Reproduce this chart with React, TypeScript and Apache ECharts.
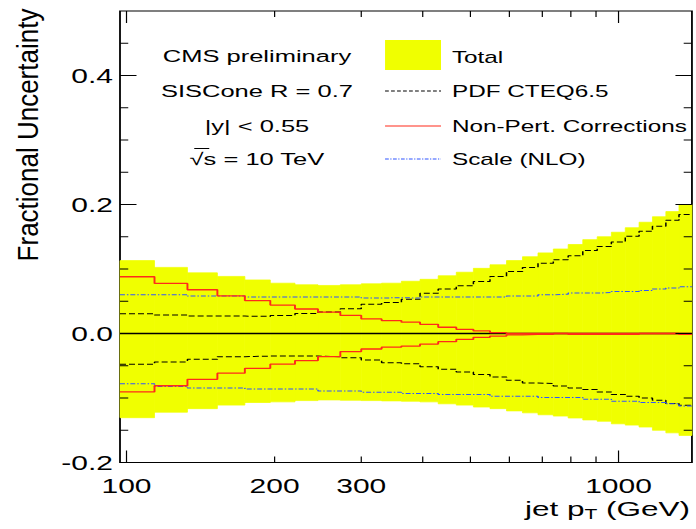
import React, { useEffect, useRef } from "react";
import * as echarts from "echarts";

// Jet pT bin edges (GeV), 30 bins
const binEdges = [
  97, 114, 133, 153, 174, 196, 220, 245, 272, 300, 330, 362, 395, 430, 468, 507,
  548, 592, 638, 686, 737, 790, 846, 905, 967, 1032, 1101, 1172, 1248, 1327, 1410,
];

// Total uncertainty band (upper / lower edge per bin)
const totalUp = [
  0.113, 0.1025, 0.094, 0.0885, 0.083, 0.078, 0.0755, 0.0745, 0.0755, 0.077,
  0.078, 0.081, 0.084, 0.0895, 0.095, 0.101, 0.1065, 0.113, 0.119, 0.125,
  0.131, 0.138, 0.1455, 0.15, 0.157, 0.164, 0.1725, 0.181, 0.189, 0.2,
];
const totalDown = [
  -0.1305, -0.122, -0.1165, -0.111, -0.107, -0.106, -0.104, -0.103, -0.1035, -0.104,
  -0.1045, -0.105, -0.106, -0.109, -0.111, -0.114, -0.1165, -0.12, -0.123, -0.126,
  -0.128, -0.131, -0.134, -0.136, -0.14, -0.142, -0.145, -0.15, -0.154, -0.158,
];

// PDF (CTEQ6.5) uncertainty
const pdfUp = [
  0.0305, 0.0285, 0.027, 0.027, 0.0265, 0.028, 0.031, 0.0335, 0.0385, 0.0455,
  0.048, 0.053, 0.0625, 0.0688, 0.074, 0.0807, 0.0885, 0.0963, 0.1025, 0.109,
  0.1145, 0.1207, 0.1285, 0.135, 0.142, 0.1508, 0.1586, 0.1664, 0.1757, 0.1846,
];
const pdfDown = [
  -0.0475, -0.044, -0.04, -0.036, -0.035, -0.035, -0.035, -0.036, -0.0375, -0.041,
  -0.0455, -0.047, -0.0517, -0.0553, -0.0595, -0.0636, -0.0673, -0.0724, -0.0766, -0.0776,
  -0.0813, -0.0844, -0.087, -0.0906, -0.0947, -0.0973, -0.1, -0.1036, -0.1087, -0.1114,
];

// Non-perturbative corrections uncertainty
const npUp = [
  0.088, 0.0776, 0.0678, 0.0584, 0.051, 0.044, 0.038, 0.033, 0.028, 0.0226,
  0.02, 0.0175, 0.0143, 0.0097, 0.0065, 0.004, 0.0013, 0, 0, 0,
  0, 0, 0, 0, 0, 0, 0, 0, 0, 0,
];
const npDown = [
  -0.0906, -0.081, -0.071, -0.0615, -0.054, -0.0475, -0.042, -0.036, -0.028, -0.024,
  -0.021, -0.0195, -0.0164, -0.0127, -0.009, -0.006, -0.004, -0.002, -0.0015, -0.0015,
  0, -0.0015, -0.0015, -0.0015, -0.0015, -0.0015, 0, 0, 0, -0.0015,
];

// Scale (NLO) uncertainty
const scaleUp = [
  0.06, 0.06, 0.058, 0.058, 0.0565, 0.0565, 0.0565, 0.0565, 0.0565, 0.055,
  0.0555, 0.055, 0.0565, 0.0565, 0.0565, 0.0565, 0.0565, 0.058, 0.058, 0.06,
  0.061, 0.0626, 0.0626, 0.0636, 0.065, 0.065, 0.0667, 0.0688, 0.0704, 0.0724,
];
const scaleDown = [
  -0.078, -0.082, -0.0845, -0.0845, -0.086, -0.086, -0.086, -0.089, -0.089, -0.091,
  -0.091, -0.093, -0.093, -0.0947, -0.0947, -0.0947, -0.0973, -0.0973, -0.0973, -0.0994,
  -0.0994, -0.0994, -0.102, -0.102, -0.105, -0.105, -0.107, -0.107, -0.109, -0.1125,
];

// Axis ticks and labels
const xTickValues = [100, 200, 300, 400, 500, 600, 700, 800, 900, 1000];
const xMajorTicks = [100, 1000];
const xLabelValues = [100, 200, 300, 1000];
const yTickValues = [
  -0.2, -0.15, -0.1, -0.05, 0, 0.05, 0.1, 0.15, 0.2, 0.25, 0.3, 0.35, 0.4, 0.45,
];
const yMajorTicks = [-0.2, 0, 0.2, 0.4];

const legendLabels = ["Total", "PDF CTEQ6.5", "Non-Pert. Corrections", "Scale (NLO)"];
const infoLines = ["CMS preliminary", "SISCone R = 0.7", "|y| < 0.55", "√s = 10 TeV"];

const X_MIN = 97;
const X_MAX = 1410;
const Y_MIN = -0.2;
const Y_MAX = 0.5;

const YELLOW = "#f0ff00";
const RED = "#ff2a1a";
const BLUE = "#2f55ff";
const FONT = "Liberation Sans, Arial, Helvetica, sans-serif";

// The figure is drawn in a narrow frame and widened 1.5x horizontally
const STRETCH = 1.5;
const W = 696 / STRETCH;
const H = 529;

const stepData = (vals: number[]) =>
  binEdges.map((e, i) => [e, vals[Math.min(i, vals.length - 1)]]);

const isMember = (v: number, list: number[]) =>
  list.some((m) => Math.abs(m - v) < 1e-9);

export default function App() {
  const ref = useRef<HTMLDivElement>(null);

  useEffect(() => {
    if (!ref.current) return;
    const chart = echarts.init(ref.current, undefined, { renderer: "svg" });

    const stepLine = (
      name: string,
      vals: number[],
      color: string,
      width: number,
      type: any
    ) => ({
      name,
      type: "line",
      step: "end",
      data: stepData(vals),
      symbol: "none",
      silent: true,
      z: 3,
      lineStyle: { color, width, type },
    });

    const pdfDash = [4, 2];
    const scaleDash = [3.3, 1.3, 1, 1.3];

    const legendX0 = 256.7;
    const legendX1 = 294;
    const legendTextX = 301.3;
    const legendY = [56, 91, 126, 159];
    const infoX = 171.3;

    const option: any = {
      animation: false,
      backgroundColor: "#ffffff",
      grid: {
        left: 80,
        right: W - 461.3,
        top: 11,
        bottom: 66.5,
        show: true,
        borderColor: "#000",
        borderWidth: 1.2,
        backgroundColor: "transparent",
      },
      xAxis: {
        type: "log",
        logBase: 10,
        min: X_MIN,
        max: X_MAX,
        axisLine: { show: false },
        axisTick: { show: false },
        splitLine: { show: false },
        axisLabel: {
          customValues: xLabelValues,
          fontSize: 20,
          fontFamily: FONT,
          color: "#000",
          margin: 13,
          formatter: (v: number) => String(Math.round(v)),
        },
      },
      yAxis: {
        type: "value",
        min: Y_MIN,
        max: Y_MAX,
        interval: 0.05,
        axisLine: { show: false },
        axisTick: { show: false },
        splitLine: { show: false },
        axisLabel: {
          fontSize: 20,
          fontFamily: FONT,
          color: "#000",
          margin: 4.7,
          showMaxLabel: false,
          formatter: (v: number) => (isMember(v, yMajorTicks) ? v.toFixed(1) : ""),
        },
      },
      series: [
        {
          name: "Total",
          type: "custom",
          silent: true,
          z: 1,
          data: totalUp.map((u, i) => [binEdges[i], binEdges[i + 1], u, totalDown[i]]),
          encode: { x: [0, 1], y: [2, 3] },
          renderItem: (params: any, api: any) => {
            const p0 = api.coord([api.value(0), api.value(2)]);
            const p1 = api.coord([api.value(1), api.value(3)]);
            return {
              type: "rect",
              shape: { x: p0[0], y: p0[1], width: p1[0] - p0[0], height: p1[1] - p0[1] },
              style: { fill: YELLOW, stroke: YELLOW, lineWidth: 0.6 },
            };
          },
        },
        {
          name: "zero",
          type: "line",
          data: [
            [X_MIN, 0],
            [X_MAX, 0],
          ],
          symbol: "none",
          silent: true,
          z: 2,
          lineStyle: { color: "#000", width: 1.3 },
        },
        stepLine("PDF CTEQ6.5 up", pdfUp, "#000", 1, pdfDash),
        stepLine("PDF CTEQ6.5 down", pdfDown, "#000", 1, pdfDash),
        stepLine("Scale (NLO) up", scaleUp, BLUE, 1, scaleDash),
        stepLine("Scale (NLO) down", scaleDown, BLUE, 1, scaleDash),
        stepLine("Non-Pert. up", npUp, RED, 1.3, "solid"),
        stepLine("Non-Pert. down", npDown, RED, 1.3, "solid"),
        {
          name: "yTicks",
          type: "custom",
          silent: true,
          z: 4,
          data: yTickValues.map((v) => [v, isMember(v, yMajorTicks) ? 1 : 0]),
          encode: { y: 0 },
          renderItem: (params: any, api: any) => {
            const cs = params.coordSys;
            const y = api.coord([X_MIN, api.value(0)])[1];
            const len = api.value(1) === 1 ? 11 : 5.5;
            const st = { stroke: "#000", lineWidth: 1 };
            return {
              type: "group",
              children: [
                { type: "line", shape: { x1: cs.x, y1: y, x2: cs.x + len, y2: y }, style: st },
                {
                  type: "line",
                  shape: { x1: cs.x + cs.width, y1: y, x2: cs.x + cs.width - len, y2: y },
                  style: st,
                },
              ],
            };
          },
        },
        {
          name: "xTicks",
          type: "custom",
          silent: true,
          z: 4,
          data: xTickValues.map((v) => [v, isMember(v, xMajorTicks) ? 1 : 0]),
          encode: { x: 0 },
          renderItem: (params: any, api: any) => {
            const cs = params.coordSys;
            const x = api.coord([api.value(0), 0])[0];
            const len = api.value(1) === 1 ? 12 : 6;
            const st = { stroke: "#000", lineWidth: 0.8 };
            return {
              type: "group",
              children: [
                {
                  type: "line",
                  shape: { x1: x, y1: cs.y + cs.height, x2: x, y2: cs.y + cs.height - len },
                  style: st,
                },
                { type: "line", shape: { x1: x, y1: cs.y, x2: x, y2: cs.y + len }, style: st },
              ],
            };
          },
        },
      ],
      graphic: [
        // Axis titles
        {
          type: "text",
          x: 18.5,
          y: 135,
          rotation: Math.PI / 2,
          scaleX: 1.3,
          style: {
            text: "Fractional Uncertainty",
            font: `20px ${FONT}`,
            fill: "#000",
            align: "center",
            verticalAlign: "middle",
          },
        },
        {
          type: "text",
          x: 460,
          y: 508.5,
          style: {
            text: "{a|jet p}{s|T}{a| (GeV)}",
            align: "right",
            verticalAlign: "middle",
            rich: {
              a: { fontSize: 21, fontFamily: FONT, fill: "#000", lineHeight: 21 },
              s: {
                fontSize: 14,
                fontFamily: FONT,
                fill: "#000",
                lineHeight: 21,
                padding: [11, 0, 0, 0],
              },
            },
          },
        },
        // Info block
        ...infoLines.map((t, i) => ({
          type: "text",
          x: infoX,
          y: legendY[i],
          style: {
            text: t,
            font: `17px ${FONT}`,
            fill: "#000",
            align: "center",
            verticalAlign: "middle",
          },
        })),
        {
          type: "line",
          shape: { x1: 129.5, y1: 148.5, x2: 139.5, y2: 148.5 },
          style: { stroke: "#000", lineWidth: 1 },
        },
        // Legend
        {
          type: "rect",
          shape: { x: legendX0, y: 40, width: legendX1 - legendX0, height: 30 },
          style: { fill: YELLOW },
        },
        {
          type: "line",
          shape: { x1: legendX0, y1: legendY[1], x2: legendX1, y2: legendY[1] },
          style: { stroke: "#000", lineWidth: 1, lineDash: [2.5, 1.5] },
        },
        {
          type: "line",
          shape: { x1: legendX0, y1: legendY[2], x2: legendX1, y2: legendY[2] },
          style: { stroke: RED, lineWidth: 1.2 },
        },
        {
          type: "line",
          shape: { x1: legendX0, y1: legendY[3], x2: legendX1, y2: legendY[3] },
          style: { stroke: BLUE, lineWidth: 1, lineDash: [2.5, 1, 0.8, 1] },
        },
        ...legendLabels.map((t, i) => ({
          type: "text",
          x: legendTextX,
          y: legendY[i] + (i === 0 ? 1 : 0),
          style: {
            text: t,
            font: `16.2px ${FONT}`,
            fill: "#000",
            align: "left",
            verticalAlign: "middle",
          },
        })),
      ],
    };

    chart.setOption(option);
    return () => chart.dispose();
  }, []);

  return (
    <div
      ref={ref}
      style={{
        position: "fixed",
        left: 0,
        top: 0,
        width: W,
        height: H,
        transform: `scaleX(${STRETCH})`,
        transformOrigin: "0 0",
      }}
    />
  );
}
